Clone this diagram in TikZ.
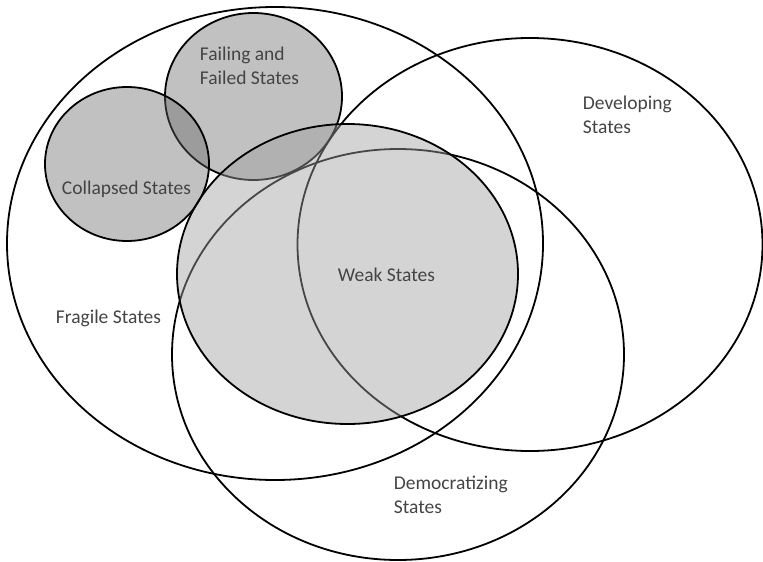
\documentclass[tikz,border=0pt]{standalone}
\usepackage{fontspec}
\setmainfont{Carlito}
\usepackage{tikz}
\definecolor{txtgray}{RGB}{68,68,68}
\definecolor{smallfill}{RGB}{100,100,100}
\definecolor{weakfill}{RGB}{159,159,159}

\begin{document}
\begin{tikzpicture}[x=1pt,y=-1pt,line width=1.8pt,
        txt/.style={text=txtgray,inner sep=0pt,anchor=west,align=left,font=\fontsize{19.5}{24}\selectfont}]
        \useasboundingbox (0,0) rectangle (763,562);
        %
        \draw (275,243.5) ellipse [x radius=268, y radius=236.5];
        %
        \draw (530,244.5) ellipse [x radius=232.5, y radius=206.5];
        %
        \draw (398,354.5) ellipse [x radius=226, y radius=205.5];
        %
        \draw [fill=smallfill, fill opacity=0.4] (253.5,96.5) ellipse [x radius=88.5, y radius=83.5];
        %
        \draw [fill=smallfill, fill opacity=0.4] (127,164) ellipse [x radius=82, y radius=77];
        %
        \draw [fill=weakfill, fill opacity=0.45] (347.5,274) ellipse [x radius=170.5, y radius=150];
        %
        \node [txt] (failing) at (199,65.5) {Failing and\\Failed States};
        \node [txt] (collapsed) at (61,189) {Collapsed States};
        \node [txt] (developing) at (582,115) {Developing\\States};
        \node [txt] (weak) at (337,275) {Weak States};
        \node [txt] (fragile) at (55,318) {Fragile States};
        \node [txt] (democratizing) at (393,495) {Democratizing\\States};
      \end{tikzpicture}
\end{document}
